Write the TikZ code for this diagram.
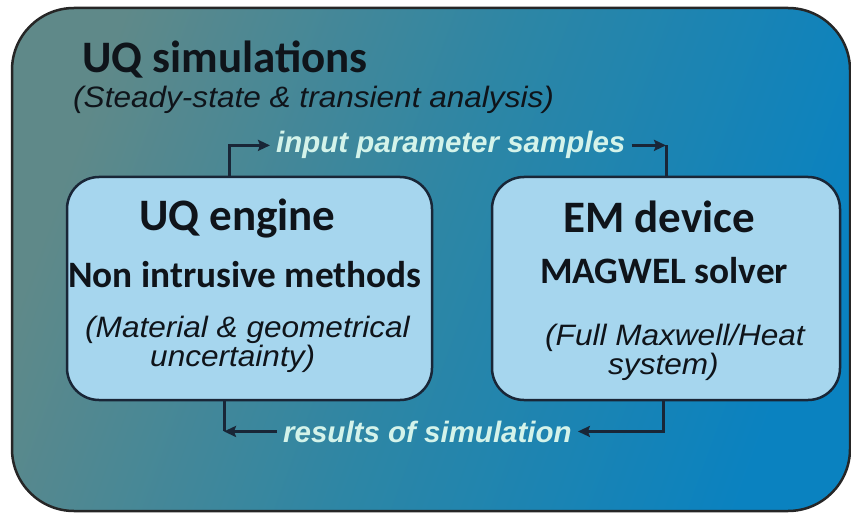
\documentclass[tikz,border=0pt]{standalone}
\usepackage{fontspec}
\setmainfont{Liberation Sans}
\newfontfamily\headfont{Carlito}
\newfontfamily\notefont[FakeStretch=1.07]{Liberation Sans}
\usetikzlibrary{arrows.meta}
\definecolor{bgleft}{RGB}{95,137,137}
\definecolor{bgmid}{RGB}{45,134,165}
\definecolor{bgright}{RGB}{10,130,192}
\definecolor{boxfill}{RGB}{166,214,238}
\definecolor{boxline}{RGB}{25,38,55}
\definecolor{ink}{RGB}{15,20,26}
\definecolor{flowtext}{RGB}{212,243,234}
\newcommand\ptsize[1]{\fontsize{#1}{#1}\selectfont}
\begin{document}
\begin{tikzpicture}[x=1pt,y=-1pt,
  box/.style={draw=boxline,line width=2.5pt,fill=boxfill,rounded corners=32pt,inner sep=0pt},
  head/.style={anchor=base west,inner sep=0pt,text=ink},
  note/.style={anchor=base west,inner sep=0pt,text=ink,font=\notefont\itshape\ptsize{29.5}},
  flow/.style={anchor=base west,inner xsep=6pt,inner ysep=0pt,text=flowtext,font=\bfseries\itshape\ptsize{29.5}},
  link/.style={draw=boxline,line width=3pt},
  tip/.style={-{Stealth[length=12pt,width=11pt,inset=2pt]}}]
\path[fill=white,use as bounding box] (0,0) rectangle (851,513);
\draw[line width=2.5pt,draw=black!85,rounded corners=62pt,left color=bgleft,right color=bgright,middle color=bgmid,shading angle=70] (12,8) rectangle (850,511);
\node[head,font=\headfont\bfseries\ptsize{45}] (simtitle) at (82,73) {UQ simulations};
\node[note] (simnote) at (73,108) {(Steady-state \& transient analysis)};
\node[box,minimum width=365pt,minimum height=223pt] (engine) at (249.5,288.5) {};
\node[box,minimum width=348pt,minimum height=223pt] (device) at (666,288.5) {};
\node[head,font=\headfont\bfseries\ptsize{45}] (enginetitle) at (139,230) {UQ engine};
\node[head,font=\headfont\bfseries\ptsize{37.3}] (enginesub) at (68,287) {Non intrusive methods};
\node[note] (enginenote) at (85,337) {(Material \& geometrical};
\node[note] (enginenote2) at (150,366) {uncertainty)};
\node[head,font=\headfont\bfseries\ptsize{45}] (devicetitle) at (563,233) {EM device};
\node[head,font=\headfont\bfseries\ptsize{37.3}] (devicesub) at (540,283) {MAGWEL solver};
\node[note] (devicenote) at (545,345) {(Full Maxwell/Heat};
\node[note] (devicenote2) at (608,374) {system)};
\node[flow] (inlab) at (270,153) {input parameter samples};
\node[flow] (reslab) at (277,442) {results of simulation};
\coordinate (enghead) at ([xshift=-20.5pt]engine.north);
\coordinate (engfoot) at ([xshift=-25.5pt]engine.south);
\draw[link,tip] (enghead) |- (inlab.west);
\draw[link,tip] (inlab.east) -- (inlab.east -| device.north);
\draw[link] (inlab.east -| device.north) -- (device.north);
\draw[link,tip] ([xshift=-3pt]device.south) |- (reslab.east);
\draw[link,tip] (reslab.west) -- (reslab.west -| engfoot);
\draw[link] (reslab.west -| engfoot) -- (engfoot);
\end{tikzpicture}
\end{document}
